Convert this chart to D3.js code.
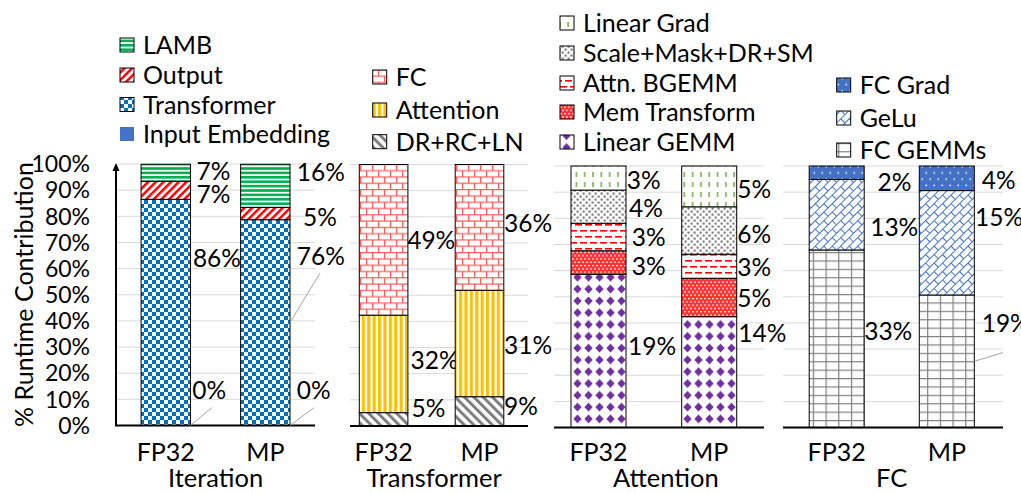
<!DOCTYPE html>
<html><head><meta charset="utf-8">
<script src="https://cdn.jsdelivr.net/npm/d3@7"></script>
<style>
html,body{margin:0;padding:0;background:#fff;overflow:hidden}
text{font-family:Lato,"Open Sans",sans-serif;font-size:23px;fill:#000}
text.lbl{font-size:24.5px}
text.leg{font-size:25px}
text.cat{font-size:25px}
text.ttl{font-size:25.5px}
</style></head><body>
<svg id="chart" width="1021" height="493"></svg>
<script>
// ---------------- DATA ----------------
const categories = ["FP32", "MP"];
const panelTitles = ["Iteration", "Transformer", "Attention", "FC"];
const tickValues = [0, 10, 20, 30, 40, 50, 60, 70, 80, 90, 100];
const yAxisTitle = "% Runtime Contribution";

// series listed bottom -> top; values = bar share (%)
const iterationSeries = ["Input Embedding", "Transformer", "Output", "LAMB"];
const iterationFP32 = [0, 86.5, 6.9, 6.5];
const iterationMP = [0, 78.7, 4.7, 16.5];
const iterationLabelsFP32 = ["0%", "86%", "7%", "7%"];
const iterationLabelsMP = ["0%", "76%", "5%", "16%"];

const transformerSeries = ["DR+RC+LN", "Attention", "FC"];
const transformerFP32 = [5.1, 37.3, 57.6];
const transformerMP = [11.2, 40.7, 48.1];
const transformerLabelsFP32 = ["5%", "32%", "49%"];
const transformerLabelsMP = ["9%", "31%", "36%"];

const attentionSeries = ["Linear GEMM", "Mem Transform", "Attn. BGEMM", "Scale+Mask+DR+SM", "Linear Grad"];
const attentionFP32 = [58.6, 9.0, 10.5, 12.7, 9.2];
const attentionMP = [42.4, 14.7, 9.2, 18.1, 15.6];
const attentionLabelsFP32 = ["19%", "3%", "3%", "4%", "3%"];
const attentionLabelsMP = ["14%", "5%", "3%", "6%", "5%"];

const fcSeries = ["FC GEMMs", "GeLu", "FC Grad"];
const fcFP32 = [67.9, 27.0, 5.1];
const fcMP = [50.7, 39.9, 9.4];
const fcLabelsFP32 = ["33%", "13%", "2%"];
const fcLabelsMP = ["19%", "15%", "4%"];

// ---------------- LAYOUT ----------------
const layout = [
  {band:[116,315.1], bw:49.4, grid:[116,315], yTop:164, yBot:425.5, lx:120, ly:[134,104.5,75,45], titleDx:0,
   labelPos:[[[13.6,1.7],[64.1,2.4],[88.4,6],[97.3,6]], [[13.6,6.7],[64.8,6.7],[79.8,13],[96.9,6.7]]]},
  {band:[335.65,527.45], bw:48.6, grid:[350,528], yTop:164.5, yBot:426, lx:372.7, ly:[141.7,110,77], titleDx:2.5,
   labelPos:[[[6.8,3.7],[25.2,2.7],[71,-0.7]], [[7.4,0.3],[30.9,0.3],[77.4,0.3]]]},
  {band:[543.15,764.55], bw:55, grid:[554,764], yTop:166, yBot:427.6, lx:560, ly:[142,112,83,53,23], titleDx:12,
   labelPos:[[[31,2],[61.8,5.7],[72.7,5.7],[83.8,3],[94.6,0.7]], [[36.1,1.6],[49.4,0.6],[61.3,0.6],[74,0.6],[91.1,0.6]]]},
  {band:[781.65,1001.85], bw:55, grid:[783,1003], yTop:166, yBot:427.6, lx:836.7, ly:[150,118,85], titleDx:0,
   labelPos:[[[36.7,0],[76.8,6],[94,13.3]], [[39.9,7.4],[80.4,0.7],[94.4,7.4]]]}
];
// leader lines: panel, category index, segment index, start offset from label
const leaders = [
  {p:0, c:0, s:0, dx:19.7, dy:17.7},
  {p:0, c:1, s:0, dx:17.3, dy:17.7},
  {p:0, c:1, s:1, dx:23.3, dy:17},
  {p:3, c:1, s:0, dx:21.3, dy:29.4}
];

const panels = [
  {series:iterationSeries, values:[iterationFP32, iterationMP], labels:[iterationLabelsFP32, iterationLabelsMP]},
  {series:transformerSeries, values:[transformerFP32, transformerMP], labels:[transformerLabelsFP32, transformerLabelsMP]},
  {series:attentionSeries, values:[attentionFP32, attentionMP], labels:[attentionLabelsFP32, attentionLabelsMP]},
  {series:fcSeries, values:[fcFP32, fcMP], labels:[fcLabelsFP32, fcLabelsMP]}
];

// ---------------- PATTERNS ----------------
const svg = d3.select("#chart");
const defs = svg.append("defs");
function pat(id, w, h, bg, fn, transform) {
  const p = defs.append("pattern").attr("id", id).attr("patternUnits", "userSpaceOnUse")
    .attr("width", w).attr("height", h);
  if (transform) p.attr("patternTransform", transform);
  if (bg) p.append("rect").attr("width", w).attr("height", h).attr("fill", bg);
  fn(p);
}
function r(p, x, y, w, h, c) { p.append("rect").attr("x", x).attr("y", y).attr("width", w).attr("height", h).attr("fill", c); }
function pth(p, d, c, sw, fill) { p.append("path").attr("d", d).attr("stroke", c).attr("stroke-width", sw).attr("fill", fill || "none"); }

pat("p-lamb", 8, 4.4, "#fff", p => r(p, 0, 0, 8, 2.6, "#00b050"));
pat("p-output", 5.4, 5.4, "#fff", p => r(p, 0, 0, 2.5, 5.4, "#ff0000"), "rotate(45)");
pat("p-trans", 8, 8, "#fff", p => { r(p, 0, 0, 4, 4, "#0070c0"); r(p, 4, 4, 4, 4, "#0070c0"); });
pat("p-fc", 12, 12.6, "#fff", p => pth(p, "M0,0.6H12M0,6.9H12M0.6,0.6V6.9M6.6,6.9V12.6", "#ff5b5b", 1.2));
pat("p-attn", 5.4, 10, "#fff", p => r(p, 0, 0, 3.2, 10, "#ffc000"));
pat("p-dr", 6.6, 6.6, "#fff", p => r(p, 0, 0, 3, 6.6, "#7f7f7f"), "rotate(-45)");
pat("p-lgrad", 8.3, 10, "#fff", p => r(p, 3, 2, 1.5, 5, "#70ad47"));
pat("p-scale", 6, 6, "#fff", p => { r(p, 0.5, 0.5, 2.2, 2.2, "#808080"); r(p, 3.5, 3.5, 2.2, 2.2, "#808080"); });
pat("p-abg", 10, 12, "#fff", p => { r(p, 0, 2, 7, 1.6, "#ff0000"); r(p, 5, 8, 5, 1.6, "#ff0000"); r(p, 0, 8, 2, 1.6, "#ff0000"); });
pat("p-mem", 4, 6.6, "#ff3333", p => { r(p, 0, 1, 2, 1.1, "#fff"); r(p, 2, 4.3, 2, 1.1, "#fff"); });
pat("p-lgemm", 11, 11.8, "#fff", p => pth(p, "M5.5,1.5L9.7,5.9L5.5,10.3L1.3,5.9Z", "none", 0, "#7030a0"));
pat("p-fcgrad", 8, 12.6, "#4472c4", p => { r(p, 1.5, 2, 1.5, 1.5, "#fff"); r(p, 5.5, 8.3, 1.5, 1.5, "#fff"); });
pat("p-gelu", 12, 12, "#fff", p => pth(p, "M0,0.5H12M0,6.5H12M0.5,0.5V6.5M6.5,6.5V12", "#4472c4", 1), "rotate(-45)");
pat("p-fcgemm", 12.7, 8.4, "#fff", p => pth(p, "M0.6,0V8.4M0,0.6H12.7", "#7f7f7f", 1.2));

const fills = {
  "LAMB":"url(#p-lamb)", "Output":"url(#p-output)", "Transformer":"url(#p-trans)", "Input Embedding":"#4472c4",
  "FC":"url(#p-fc)", "Attention":"url(#p-attn)", "DR+RC+LN":"url(#p-dr)",
  "Linear Grad":"url(#p-lgrad)", "Scale+Mask+DR+SM":"url(#p-scale)", "Attn. BGEMM":"url(#p-abg)",
  "Mem Transform":"url(#p-mem)", "Linear GEMM":"url(#p-lgemm)",
  "FC Grad":"url(#p-fcgrad)", "GeLu":"url(#p-gelu)", "FC GEMMs":"url(#p-fcgemm)"
};

// ---------------- DRAW ----------------
const scales = [];
panels.forEach((P, pi) => {
  const L = layout[pi];
  const y = d3.scaleLinear().domain([0, 100]).range([L.yBot, L.yTop]);
  const step = (L.band[1] - L.band[0]) / 2;
  const pad = 1 - L.bw / step;
  const x = d3.scaleBand().domain(categories).range(L.band).paddingInner(pad).paddingOuter(pad / 2);
  scales.push({x, y});
  const g = svg.append("g");

  g.selectAll("line.grid").data(tickValues).join("line").attr("class", "grid")
    .attr("x1", L.grid[0]).attr("x2", L.grid[1])
    .attr("y1", d => y(d)).attr("y2", d => y(d))
    .attr("stroke", "#d9d9d9").attr("stroke-width", 1);

  categories.forEach((c, ci) => {
    let acc = 0;
    const segs = P.values[ci].map((v, i) => { const s = {i, y0: acc, y1: acc + v, name: P.series[i]}; acc += v; return s; });
    g.selectAll(null).data(segs.filter(s => s.y1 > s.y0)).join("rect")
      .attr("x", x(c)).attr("width", x.bandwidth())
      .attr("y", s => y(s.y1)).attr("height", s => y(s.y0) - y(s.y1))
      .attr("fill", s => fills[s.name]).attr("stroke", "#000").attr("stroke-width", 1);
    g.selectAll(null).data(segs).join("text").attr("class", "lbl")
      .attr("x", s => x(c) + x.bandwidth() + L.labelPos[ci][s.i][1])
      .attr("y", s => y(L.labelPos[ci][s.i][0])).attr("dy", "0.36em")
      .text(s => P.labels[ci][s.i]);
    P["segs" + ci] = segs;
  });

  g.append("line").attr("x1", L.grid[0]).attr("x2", L.grid[1]).attr("y1", y(0)).attr("y2", y(0))
    .attr("stroke", "#000").attr("stroke-width", 2);

  g.selectAll("text.cat").data(categories).join("text").attr("class", "cat")
    .attr("x", d => x(d) + x.bandwidth() / 2).attr("y", 452).attr("dy", "0.36em")
    .attr("text-anchor", "middle").text(d => d);
  g.append("text").attr("class", "ttl").attr("x", (x(categories[0]) + x(categories[1]) + x.bandwidth()) / 2 + L.titleDx)
    .attr("y", 478).attr("dy", "0.36em").attr("text-anchor", "middle").text(panelTitles[pi]);

  // legend (top -> bottom = reverse of series)
  P.series.forEach((s, i) => {
    const cy = L.ly[i];
    g.append("rect").attr("x", L.lx).attr("y", cy - 7).attr("width", 14).attr("height", 14)
      .attr("fill", fills[s]).attr("stroke", s === "Input Embedding" ? "none" : "#000").attr("stroke-width", 1);
    g.append("text").attr("class", "leg").attr("x", L.lx + 23).attr("y", cy).attr("dy", "0.36em").text(s);
  });
});

// leader lines
leaders.forEach(ld => {
  const {x, y} = scales[ld.p];
  const L = layout[ld.p];
  const c = categories[ld.c];
  const seg = panels[ld.p]["segs" + ld.c][ld.s];
  const lp = L.labelPos[ld.c][ld.s];
  const right = x(c) + x.bandwidth();
  svg.append("line")
    .attr("x1", right + lp[1] + ld.dx).attr("y1", y(lp[0]) + ld.dy)
    .attr("x2", right).attr("y2", y((seg.y0 + seg.y1) / 2))
    .attr("stroke", "#a6a6a6").attr("stroke-width", 1);
});

// y axis (first panel)
const y0 = scales[0].y;
svg.append("line").attr("x1", 116).attr("x2", 116).attr("y1", y0(0) + 1).attr("y2", y0(100) + 5)
  .attr("stroke", "#000").attr("stroke-width", 2);
svg.append("path").attr("d", `M116,${y0(100) - 1}L112.5,${y0(100) + 7}L119.5,${y0(100) + 7}Z`).attr("fill", "#000");
svg.selectAll("text.tick").data(tickValues).join("text").attr("class", "tick")
  .attr("x", 90).attr("y", d => y0(d)).attr("dy", "0.36em").attr("text-anchor", "end").text(d => d + "%");
svg.append("text").attr("transform", "translate(33,294.5) rotate(-90)").attr("text-anchor", "middle")
  .style("font-size", "25px").text(yAxisTitle);
</script>
</body></html>
